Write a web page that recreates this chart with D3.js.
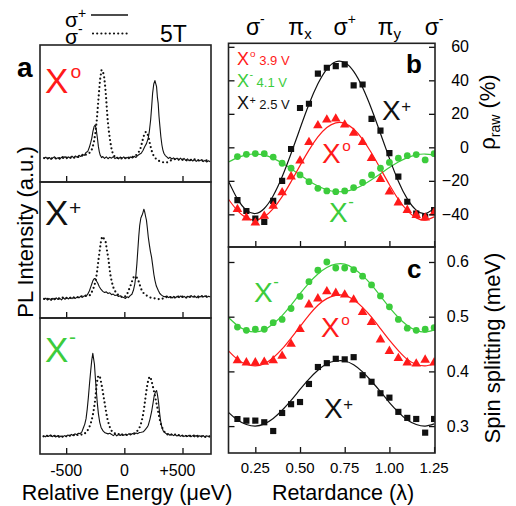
<!DOCTYPE html>
<html>
<head>
<meta charset="utf-8">
<script src="https://cdn.jsdelivr.net/npm/d3@7"></script>
<style>
  body { margin: 0; background: #fff; }
  text { font-family: "Liberation Sans", Arial, Helvetica, sans-serif; }
</style>
</head>
<body>
<script>
// ---- data ----

// panel a: PL spectra, [energy (ueV), intensity (a.u.)]
const specX0Plus = [[-690,17.0],[-675,18.2],[-660,16.8],[-645,17.9],[-630,16.5],[-615,17.6],[-600,18.4],[-585,16.9],[-570,17.8],[-555,16.6],[-540,18.1],[-525,17.2],[-510,18.6],[-495,17.0],[-480,18.3],[-465,17.4],[-450,18.9],[-435,17.6],[-420,19.0],[-405,18.0],[-390,19.5],[-375,18.6],[-360,20.2],[-345,19.4],[-330,21.5],[-315,22.2],[-300,25.5],[-290,28.5],[-280,31.9],[-270,37.0],[-260,40.5],[-251,41.6],[-244,39.5],[-237,35.5],[-230,31.0],[-223,25.8],[-215,22.0],[-207,19.5],[-195,17.8],[-185,18.6],[-170,17.2],[-155,18.4],[-140,17.0],[-125,18.1],[-110,17.4],[-95,18.5],[-80,17.1],[-65,18.0],[-50,16.9],[-35,18.2],[-20,17.3],[-5,18.4],[10,17.2],[25,18.0],[40,17.0],[55,18.3],[70,17.5],[85,18.8],[100,17.9],[115,19.4],[130,20.2],[145,21.0],[160,23.0],[175,25.8],[190,28.0],[205,31.9],[215,37.0],[226,45.3],[235,55.0],[243,64.7],[253,71.5],[263,74.0],[270,71.8],[277,69.6],[284,62.0],[291,57.4],[298,48.0],[306,40.4],[314,33.0],[323,27.0],[331,23.5],[340,21.0],[352,19.3],[363,18.5],[378,17.2],[393,18.0],[408,16.8],[423,17.6],[438,16.5],[453,17.4],[468,16.2],[483,17.5],[498,16.0],[513,17.2],[528,15.8],[543,16.9],[558,15.5],[573,16.6],[588,15.3],[603,16.4],[618,15.0],[633,16.2],[648,15.4],[663,16.3],[678,14.9],[693,15.8],[708,14.6],[723,15.5],[738,14.8]];
const specX0Minus = [[-690,17.5],[-670,16.8],[-650,17.6],[-630,17.0],[-610,18.0],[-590,17.2],[-570,17.9],[-550,17.0],[-530,18.2],[-510,17.5],[-490,18.0],[-470,17.3],[-450,18.4],[-430,17.8],[-410,18.6],[-390,18.2],[-370,19.3],[-350,19.0],[-330,20.0],[-310,20.5],[-290,22.0],[-275,24.5],[-262,29.0],[-250,35.0],[-237,45.0],[-223,60.0],[-209,74.5],[-196,81.8],[-184,80.5],[-174,77.0],[-165,70.0],[-157,62.0],[-150,53.0],[-143,45.0],[-133,37.0],[-123,30.7],[-112,25.0],[-100,21.0],[-85,18.8],[-66,17.3],[-45,18.0],[-25,17.2],[-5,17.9],[15,17.0],[35,18.0],[55,17.4],[75,18.5],[95,19.0],[115,21.0],[134,23.0],[150,28.0],[163,32.5],[175,35.5],[186,36.7],[196,35.8],[206,33.5],[216,29.5],[226,25.8],[238,22.0],[249,19.7],[263,17.8],[277,16.5],[295,15.5],[320,14.8],[340,14.2],[363,14.1],[385,15.2],[406,16.0],[430,16.8],[455,16.0],[480,16.8],[505,16.2],[530,15.6],[555,16.4],[580,15.8],[605,16.6],[630,15.6],[655,16.2],[680,15.4],[705,15.9],[730,15.0]];
const specXpPlus = [[-690,13.5],[-675,14.6],[-660,13.2],[-645,14.2],[-630,13.0],[-615,14.5],[-600,13.4],[-585,14.8],[-570,13.6],[-555,14.4],[-540,13.3],[-525,14.9],[-510,13.8],[-495,15.0],[-480,14.0],[-465,15.3],[-450,14.2],[-435,15.5],[-420,14.4],[-405,15.6],[-390,14.8],[-375,16.0],[-360,15.2],[-345,16.3],[-330,15.8],[-315,17.5],[-300,20.0],[-290,22.5],[-280,25.0],[-270,27.5],[-258,29.0],[-248,28.8],[-238,27.0],[-228,25.5],[-215,23.0],[-200,21.0],[-185,19.6],[-170,18.8],[-155,19.2],[-140,18.0],[-125,18.5],[-110,17.2],[-95,17.6],[-80,16.5],[-65,16.9],[-50,15.8],[-35,16.4],[-20,15.5],[-5,15.0],[10,14.4],[22,15.6],[35,15.0],[50,16.5],[65,17.5],[78,20.4],[90,25.0],[100,32.0],[108,40.0],[116,50.0],[124,60.0],[132,68.0],[142,73.5],[152,75.5],[160,77.5],[168,80.0],[175,78.0],[182,75.0],[190,72.0],[198,66.0],[206,59.4],[215,54.0],[224,49.0],[234,44.8],[244,38.5],[254,32.0],[263,27.7],[275,23.5],[291,20.4],[305,18.0],[320,16.8],[335,15.9],[350,15.6],[365,16.2],[380,15.0],[395,15.8],[410,14.7],[425,15.9],[440,14.9],[455,16.0],[470,15.0],[485,16.2],[500,15.1],[515,15.9],[530,14.8],[545,16.0],[560,15.2],[575,16.4],[590,15.3],[605,16.1],[620,15.0],[635,16.3],[650,15.4],[665,16.5],[680,15.5],[695,16.3],[710,15.2],[725,16.0],[740,15.4]];
const specXpMinus = [[-690,14.0],[-670,13.4],[-650,14.5],[-630,13.6],[-610,14.8],[-590,13.9],[-570,14.6],[-550,14.0],[-530,15.0],[-510,14.2],[-490,15.2],[-470,14.5],[-450,15.4],[-430,14.8],[-410,15.6],[-390,15.0],[-370,16.0],[-350,15.8],[-330,16.5],[-310,16.5],[-294,16.8],[-280,19.0],[-266,21.7],[-254,25.0],[-243,29.0],[-233,35.0],[-223,42.3],[-211,50.0],[-200,57.0],[-190,59.9],[-180,59.0],[-170,57.5],[-160,55.7],[-150,50.0],[-137,43.6],[-127,36.0],[-117,30.2],[-103,25.0],[-89,21.0],[-70,18.5],[-51,16.8],[-30,15.8],[-9,15.0],[10,16.0],[26,18.0],[40,21.0],[54,24.0],[68,27.5],[80,30.0],[91,30.7],[105,30.0],[120,27.7],[134,24.0],[149,20.4],[168,18.0],[186,16.8],[206,15.8],[226,15.0],[248,14.6],[271,14.4],[291,14.0],[311,13.6],[335,14.5],[360,15.4],[385,14.8],[410,15.6],[435,15.0],[460,15.8],[485,15.2],[510,16.0],[535,15.0],[560,15.8],[585,15.3],[610,16.0],[635,15.2],[660,16.0],[685,15.4],[710,16.1],[735,15.5]];
const specXmPlus = [[-695,13.5],[-680,12.6],[-665,13.8],[-650,12.9],[-635,14.0],[-620,12.7],[-605,13.6],[-590,12.5],[-575,13.4],[-560,12.3],[-545,13.2],[-530,12.6],[-515,13.5],[-500,12.8],[-485,14.0],[-470,13.2],[-455,14.4],[-440,13.6],[-425,14.8],[-410,14.2],[-395,15.3],[-380,15.0],[-365,16.3],[-351,19.5],[-340,22.0],[-329,26.0],[-319,33.0],[-309,41.8],[-299,52.0],[-289,61.3],[-280,69.0],[-271,74.0],[-264,70.0],[-257,66.0],[-250,57.0],[-243,49.0],[-233,38.0],[-223,29.7],[-212,23.5],[-200,19.5],[-183,17.0],[-166,15.6],[-140,14.8],[-125,15.2],[-109,14.4],[-95,13.5],[-80,14.6],[-65,13.3],[-50,14.4],[-35,13.6],[-20,14.8],[-5,13.7],[10,14.6],[25,13.9],[40,15.0],[55,14.2],[70,15.1],[85,14.5],[100,15.4],[115,15.0],[130,15.8],[146,16.0],[163,16.3],[180,18.0],[195,19.5],[206,21.2],[220,25.5],[234,30.9],[246,37.0],[257,43.0],[267,45.5],[277,46.7],[285,43.5],[294,38.2],[302,31.0],[311,24.8],[322,20.0],[334,17.0],[350,15.6],[365,14.6],[377,14.9],[392,13.8],[407,14.6],[422,13.5],[437,14.4],[452,13.2],[467,14.0],[482,13.0],[497,13.9],[512,12.8],[527,13.7],[542,12.9],[557,13.8],[572,12.7],[587,13.5],[602,12.6],[617,13.6],[632,12.4],[647,13.4],[662,12.7],[677,13.6],[692,12.5],[707,13.4],[722,12.8],[737,13.5]];
const specXmMinus = [[-695,13.0],[-675,13.8],[-655,12.9],[-635,13.6],[-615,12.6],[-595,13.5],[-575,12.8],[-555,13.4],[-535,12.6],[-515,13.6],[-495,12.9],[-475,13.8],[-455,13.1],[-437,13.9],[-418,13.2],[-398,14.2],[-380,14.6],[-360,14.0],[-341,15.0],[-323,16.3],[-308,18.5],[-294,21.2],[-282,24.5],[-271,28.5],[-261,33.5],[-251,39.4],[-244,45.5],[-237,51.6],[-230,55.5],[-223,57.7],[-216,57.5],[-209,56.4],[-199,52.5],[-189,47.9],[-178,42.0],[-166,35.8],[-155,30.0],[-143,24.8],[-130,21.0],[-117,18.0],[-100,16.0],[-80,15.1],[-60,14.3],[-40,14.8],[-20,13.9],[0,14.6],[20,14.0],[40,14.8],[60,14.2],[80,15.0],[93,15.5],[106,16.3],[120,18.0],[134,20.0],[149,24.0],[163,29.7],[175,37.0],[186,44.3],[196,50.0],[206,54.5],[213,56.0],[220,56.9],[230,55.0],[240,51.6],[251,47.5],[263,43.0],[273,38.5],[283,34.5],[294,29.5],[306,24.8],[318,21.0],[329,18.7],[343,16.5],[357,15.1],[375,14.2],[395,14.8],[415,13.6],[435,14.3],[455,13.4],[475,14.1],[495,13.2],[515,14.0],[535,13.1],[555,13.8],[575,12.9],[595,13.7],[615,12.8],[635,13.5],[655,12.7],[675,13.4],[695,12.6],[715,13.3],[735,12.7]];

const energyTicks = [-500, 0, 500];
const energyTickLabels = ["-500", "0", "+500"];

// panels b, c: retardance sweep
const retard = [0.15,0.20,0.25,0.30,0.35,0.40,0.45,0.50,0.55,0.60,0.65,0.70,0.75,0.80,0.85,0.90,0.95,1.00,1.05,1.10,1.15,1.20,1.25];
const retardFit = [0.10,0.15,0.20,0.25,0.30,0.35,0.40,0.45,0.50,0.55,0.60,0.65,0.70,0.75,0.80,0.85,0.90,0.95,1.00,1.05,1.10,1.15,1.20,1.25];

const rhoXplus  = [-31.5,-38,-42.5,-44.5,-32,-20,-1,23.5,26,44,47.5,48.5,49.5,37,37.5,17,10,-3.5,-17.5,-32.5,-39.5,-41.5,-37.5];
const rhoX0     = [-37,-42,-45,-41,-35,-27,-17.5,-8,3,13,16.5,17,13.5,8.5,3,-6.5,-19,-26.5,-33,-37.5,-40.5,-42,-39];
const rhoXminus = [-5.5,-4.2,-3.7,-3.8,-5.8,-9.5,-12.5,-16.5,-20.5,-24.5,-26,-26.5,-26,-24,-21,-16.5,-12.5,-9,-6.5,-5,-4.3,-7.5,-3.8];
const rhoFitXplus  = [-20.2,-30.8,-37.5,-39.5,-36.5,-28.9,-17.6,-3.7,11.2,25.7,37.9,46.7,51.1,50.6,45.3,35.7,22.9,8.3,-6.6,-20.2,-30.8,-37.5,-39.5,-36.5];
const rhoFitX0     = [-31.0,-37.8,-42.1,-43.4,-41.5,-36.6,-29.4,-20.5,-10.9,-1.7,6.2,11.8,14.6,14.3,10.9,4.8,-3.4,-12.8,-22.3,-31.0,-37.8,-42.1,-43.4,-41.5];
const rhoFitXminus = [-8.8,-6.15,-4.5,-4.0,-4.7,-6.6,-9.4,-12.85,-16.5,-20.1,-23.1,-25.3,-26.4,-26.3,-24.96,-22.6,-19.4,-15.8,-12.1,-8.8,-6.15,-4.5,-4.0,-4.7];

const splitXplus  = [0.313,0.310,0.310,0.307,0.291,0.324,0.340,0.344,0.377,0.408,0.415,0.423,0.422,0.426,0.393,0.381,0.360,0.352,0.326,0.315,0.313,0.288,0.313];
const splitX0     = [0.420,0.416,0.416,0.417,0.420,0.428,0.450,0.477,0.522,0.533,0.546,0.543,0.540,0.531,0.508,0.490,0.458,0.437,0.424,0.416,0.414,0.421,0.416];
const splitXminus = [0.481,0.475,0.477,0.477,0.489,0.495,0.515,0.537,0.564,0.585,0.600,0.589,0.589,0.586,0.574,0.558,0.538,0.518,0.495,0.479,0.475,0.477,0.480];
const splitFitXplus  = [0.325,0.311,0.303,0.300,0.304,0.314,0.329,0.347,0.367,0.386,0.402,0.414,0.419,0.419,0.412,0.399,0.382,0.363,0.343,0.3255,0.311,0.303,0.300,0.304];
const splitFitX0     = [0.4375,0.422,0.413,0.410,0.414,0.425,0.441,0.461,0.482,0.503,0.521,0.533,0.539,0.539,0.531,0.517,0.499,0.478,0.457,0.438,0.422,0.413,0.410,0.414];
const splitFitXminus = [0.4985,0.484,0.475,0.472,0.476,0.487,0.502,0.521,0.542,0.5615,0.578,0.590,0.596,0.596,0.588,0.575,0.558,0.5375,0.517,0.4985,0.484,0.475,0.472,0.476];

const retardTicks = [0.25, 0.50, 0.75, 1.00, 1.25];
const retardTickLabels = ["0.25", "0.50", "0.75", "1.00", "1.25"];
const polBase = ["σ", "π", "σ", "π", "σ"];
const polSup  = ["-", "", "+", "", "-"];
const polSub  = ["", "x", "", "y", ""];
const rhoTicks = [-40, -20, 0, 20, 40, 60];
const splitTicks = [0.3, 0.4, 0.5, 0.6];

// ---- drawing ----
const RED = "#ff1a1a", GREEN = "#3ccc3c", BLACK = "#111";

const svg = d3.select("body").append("svg")
  .attr("width", 516)
  .attr("height", 506);

// "X" with a superscript (o, + or -)
function xLabel(x, y, size, color, sup, extra, extraSize) {
  let shift = sup === "o" ? 0.43 : (sup === "+" ? 0.3 : 0.52);
  let t = svg.append("text")
    .attr("x", x).attr("y", y)
    .attr("fill", color)
    .style("font-size", size + "px");
  t.append("tspan").text("X");
  t.append("tspan").text(sup)
    .attr("dx", sup === "o" ? size * 0.06 : size * 0.02)
    .attr("dy", -size * shift)
    .style("font-size", (size * (sup === "o" ? 0.55 : 0.6)) + "px");
  if (extra) {
    t.append("tspan").text(extra)
      .attr("dy", size * shift)
      .style("font-size", extraSize + "px");
  }
  return t;
}

// ---------- panel a ----------
const xE = d3.scaleLinear().domain([-725, 745]).range([40, 211]);

const leftPanels = [
  { top: 45,  bottom: 182, solid: specX0Plus, dot: specX0Minus, sup: "o", color: RED,   ly: 93 },
  { top: 182, bottom: 318, solid: specXpPlus, dot: specXpMinus, sup: "+", color: BLACK, ly: 225 },
  { top: 318, bottom: 454, solid: specXmPlus, dot: specXmMinus, sup: "-", color: GREEN, ly: 362 }
];

leftPanels.forEach(function(p, i) {
  let y = d3.scaleLinear().domain([0, 100]).range([p.bottom, p.top]);

  svg.append("clipPath").attr("id", "clipL" + i)
    .append("rect")
    .attr("x", 40).attr("y", p.top)
    .attr("width", 171).attr("height", p.bottom - p.top);

  let line = d3.line().x(d => xE(d[0])).y(d => y(d[1]));

  svg.append("path")
    .datum(p.dot)
    .attr("d", line)
    .attr("fill", "none")
    .attr("stroke", BLACK)
    .attr("stroke-width", 2.2)
    .attr("stroke-linecap", "round")
    .attr("stroke-dasharray", "0,4.2")
    .attr("clip-path", "url(#clipL" + i + ")");

  svg.append("path")
    .datum(p.solid)
    .attr("d", line)
    .attr("fill", "none")
    .attr("stroke", BLACK)
    .attr("stroke-width", 1.1)
    .attr("stroke-linejoin", "round")
    .attr("clip-path", "url(#clipL" + i + ")");

  // inward ticks on the bottom edge
  let ax = svg.append("g")
    .attr("transform", "translate(0," + p.bottom + ")")
    .call(d3.axisBottom(xE).tickValues(energyTicks).tickSize(-6).tickFormat(""));
  ax.select(".domain").remove();
  ax.selectAll("line").attr("stroke", BLACK).attr("stroke-width", 1.3);

  svg.append("rect")
    .attr("x", 40).attr("y", p.top)
    .attr("width", 171).attr("height", p.bottom - p.top)
    .attr("fill", "none")
    .attr("stroke", "#222")
    .attr("stroke-width", 1.6);

  xLabel(45, p.ly, 35, p.color, p.sup);
});

svg.selectAll("text.etick")
  .data(energyTicks)
  .enter().append("text")
  .attr("class", "etick")
  .attr("x", (d, i) => xE(d) - (i === 2 ? 5 : 0))
  .attr("y", 476)
  .attr("text-anchor", "middle")
  .style("font-size", "16px")
  .text((d, i) => energyTickLabels[i]);

svg.append("text")
  .attr("x", 127).attr("y", 500)
  .attr("text-anchor", "middle")
  .style("font-size", "21.5px")
  .text("Relative Energy (\u03bceV)");

svg.append("text")
  .attr("transform", "translate(33,232) rotate(-90)")
  .attr("text-anchor", "middle")
  .style("font-size", "22px")
  .text("PL Intensity (a.u.)");

svg.append("text")
  .attr("x", 17).attr("y", 77)
  .style("font-size", "28px")
  .style("font-weight", "bold")
  .text("a");

// polarisation legend + field
let s1 = svg.append("text").attr("x", 65).attr("y", 27).style("font-size", "21px");
s1.append("tspan").text("σ");
s1.append("tspan").text("+").attr("dy", -9).style("font-size", "14px");
svg.append("line")
  .attr("x1", 91).attr("x2", 128).attr("y1", 15).attr("y2", 15)
  .attr("stroke", BLACK).attr("stroke-width", 1.6);
let s2 = svg.append("text").attr("x", 65).attr("y", 44).style("font-size", "21px");
s2.append("tspan").text("σ");
s2.append("tspan").text("-").attr("dy", -10).style("font-size", "14px");
svg.append("line")
  .attr("x1", 93).attr("x2", 128).attr("y1", 33.5).attr("y2", 33.5)
  .attr("stroke", BLACK).attr("stroke-width", 2.2)
  .attr("stroke-linecap", "round")
  .attr("stroke-dasharray", "0,4.2");
svg.append("text")
  .attr("x", 160).attr("y", 42)
  .style("font-size", "23px")
  .text("5T");

// ---------- panels b, c ----------
const xR = d3.scaleLinear().domain([0.1, 1.255]).range([228.5, 435]);
const yB = d3.scaleLinear().domain([-59.5, 62.1]).range([247, 43.3]);
const yC = d3.scaleLinear().domain([0.2508, 0.6274]).range([453, 247]);

const rightPanels = [
  { top: 43.3, bottom: 247, y: yB, ticks: rhoTicks, fmt: d3.format("d"),
    series: [
      { fit: rhoFitXminus, pts: rhoXminus, color: GREEN, shape: "circle" },
      { fit: rhoFitXplus,  pts: rhoXplus,  color: BLACK, shape: "square" },
      { fit: rhoFitX0,     pts: rhoX0,     color: RED,   shape: "triangle" }
    ] },
  { top: 247, bottom: 453, y: yC, ticks: splitTicks, fmt: d3.format(".1f"),
    series: [
      { fit: splitFitXminus, pts: splitXminus, color: GREEN, shape: "circle" },
      { fit: splitFitX0,     pts: splitX0,     color: RED,   shape: "triangle" },
      { fit: splitFitXplus,  pts: splitXplus,  color: BLACK, shape: "square" }
    ] }
];

const sqSym = d3.symbol().type(d3.symbolSquare).size(38);
const triSym = d3.symbol().type(d3.symbolTriangle).size(40);

rightPanels.forEach(function(p, i) {
  svg.append("clipPath").attr("id", "clipR" + i)
    .append("rect")
    .attr("x", 228.5).attr("y", p.top)
    .attr("width", 206.5).attr("height", p.bottom - p.top);

  let line = d3.line().curve(d3.curveNatural)
    .x((d, j) => xR(retardFit[j]))
    .y(d => p.y(d));

  p.series.forEach(function(s) {
    svg.append("path")
      .datum(s.fit)
      .attr("d", line)
      .attr("fill", "none")
      .attr("stroke", s.color)
      .attr("stroke-width", 1.2)
      .attr("clip-path", "url(#clipR" + i + ")");
  });

  p.series.forEach(function(s) {
    let g = svg.append("g").attr("fill", s.color).attr("clip-path", "url(#clipR" + i + ")");
    if (s.shape === "circle") {
      g.selectAll("circle").data(s.pts).enter().append("circle")
        .attr("cx", (d, j) => xR(retard[j]))
        .attr("cy", d => p.y(d))
        .attr("r", 3.4);
    } else {
      g.selectAll("path").data(s.pts).enter().append("path")
        .attr("d", s.shape === "square" ? sqSym : triSym)
        .attr("transform", (d, j) => "translate(" + xR(retard[j]) + "," + p.y(d) + ")");
    }
  });

  // inward ticks: bottom, left and right
  let axB = svg.append("g")
    .attr("transform", "translate(0," + p.bottom + ")")
    .call(d3.axisBottom(xR).tickValues(retardTicks).tickSize(-6).tickFormat(""));
  let axL = svg.append("g")
    .attr("transform", "translate(228.5,0)")
    .call(d3.axisLeft(p.y).tickValues(p.ticks).tickSize(-6).tickFormat(""));
  let axRt = svg.append("g")
    .attr("transform", "translate(435,0)")
    .call(d3.axisRight(p.y).tickValues(p.ticks).tickSize(-6).tickFormat(""));
  [axB, axL, axRt].forEach(function(a) {
    a.select(".domain").remove();
    a.selectAll("line").attr("stroke", BLACK).attr("stroke-width", 1.3);
  });

  svg.append("g").selectAll("text")
    .data(p.ticks)
    .enter().append("text")
    .attr("x", 469)
    .attr("y", d => p.y(d) + 5.5)
    .attr("text-anchor", "end")
    .style("font-size", "16px")
    .text(d => p.fmt(d));

  svg.append("rect")
    .attr("x", 228.5).attr("y", p.top)
    .attr("width", 206.5).attr("height", p.bottom - p.top)
    .attr("fill", "none")
    .attr("stroke", "#222")
    .attr("stroke-width", 1.6);
});

// retardance tick labels
svg.selectAll("text.rtick")
  .data(retardTicks)
  .enter().append("text")
  .attr("class", "rtick")
  .attr("x", d => xR(d))
  .attr("y", 473)
  .attr("text-anchor", "middle")
  .style("font-size", "15px")
  .text((d, i) => retardTickLabels[i]);

svg.append("text")
  .attr("x", 343).attr("y", 500)
  .attr("text-anchor", "middle")
  .style("font-size", "21.5px")
  .text("Retardance (\u03bb)");

// polarisation labels above panel b
retardTicks.forEach(function(r, i) {
  let t = svg.append("text")
    .attr("x", xR(r)).attr("y", 35)
    .attr("text-anchor", "middle")
    .style("font-size", "23px");
  t.append("tspan").text(polBase[i]);
  if (polSup[i]) t.append("tspan").text(polSup[i]).attr("dy", -11).style("font-size", "14px");
  if (polSub[i]) t.append("tspan").text(polSub[i]).attr("dy", 4).style("font-size", "15px");
});

// right axis titles
let rho = svg.append("text")
  .attr("transform", "translate(495,112) rotate(-90)")
  .attr("text-anchor", "middle")
  .style("font-size", "22px");
rho.append("tspan").text("ρ");
rho.append("tspan").text("raw").attr("dy", 5).style("font-size", "14px");
rho.append("tspan").text(" (%)").attr("dy", -5);

svg.append("text")
  .attr("transform", "translate(500,348) rotate(-90)")
  .attr("text-anchor", "middle")
  .style("font-size", "22px")
  .text("Spin splitting (meV)");

// panel letters
svg.append("text").attr("x", 406).attr("y", 73)
  .style("font-size", "26px").style("font-weight", "bold").text("b");
svg.append("text").attr("x", 407).attr("y", 278)
  .style("font-size", "26px").style("font-weight", "bold").text("c");

// legend in b
xLabel(237, 65, 18, RED, "o", " 3.9 V", 13);
xLabel(237, 87, 18, GREEN, "-", " 4.1 V", 13);
xLabel(237, 109, 18, BLACK, "+", " 2.5 V", 13);

// curve labels
xLabel(382, 120, 28, BLACK, "+");
xLabel(322, 163, 28, RED, "o");
xLabel(329, 222, 28, GREEN, "-");
xLabel(254, 302, 28, GREEN, "-");
xLabel(321, 337, 28, RED, "o");
xLabel(324, 418, 28, BLACK, "+");
</script>
</body>
</html>
